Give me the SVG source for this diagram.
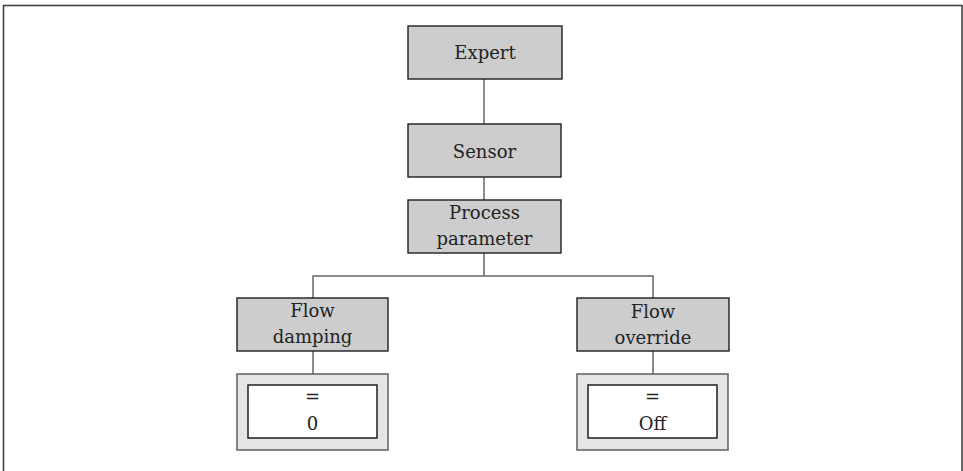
<svg xmlns="http://www.w3.org/2000/svg" width="963" height="471" viewBox="0 0 963 471">
<style>
.frame{fill:none;stroke:#444;stroke-width:1.6}
.node{fill:#cdcdcd;stroke:#1e1e1e;stroke-width:1.4}
.outer{fill:#e5e5e6;stroke:#555;stroke-width:1.4}
.inner{fill:#fff;stroke:#111;stroke-width:1.4}
.conn{fill:none;stroke:#666;stroke-width:1.5}
text{font-family:"DejaVu Serif","Liberation Serif",serif;font-size:18px;fill:#222;text-anchor:middle;dominant-baseline:central}
</style>
<rect class="frame" x="3.5" y="5.5" width="958.5" height="480"/>
<g id="connectors">
<path class="conn" d="M484 79V124"/>
<path class="conn" d="M484 177V200"/>
<path class="conn" d="M484 253V276M313 298V276H653V298"/>
<path class="conn" d="M313 351V374"/>
<path class="conn" d="M653 351V374"/>
</g>
<g id="expert">
<rect class="node" x="408" y="26" width="154" height="53"/>
<text x="485" y="52">Expert</text>
</g>
<g id="sensor">
<rect class="node" x="408" y="124" width="153" height="53"/>
<text x="484.5" y="151">Sensor</text>
</g>
<g id="process-parameter">
<rect class="node" x="408" y="200" width="153" height="53"/>
<text x="484.5" y="212">Process</text>
<text x="484.5" y="238">parameter</text>
</g>
<g id="flow-damping">
<rect class="node" x="237" y="298" width="151" height="53"/>
<text x="312.5" y="310">Flow</text>
<text x="312.5" y="336">damping</text>
</g>
<g id="flow-override">
<rect class="node" x="577" y="298" width="152" height="53"/>
<text x="653" y="311">Flow</text>
<text x="653" y="337">override</text>
</g>
<g id="value-damping">
<rect class="outer" x="237" y="374" width="151" height="76"/>
<rect class="inner" x="248" y="385" width="129" height="53"/>
<text x="312.5" y="396">=</text>
<text x="312.5" y="423">0</text>
</g>
<g id="value-override">
<rect class="outer" x="577" y="374" width="151" height="76"/>
<rect class="inner" x="588" y="385" width="129" height="53"/>
<text x="652.5" y="396">=</text>
<text x="652.5" y="423">Off</text>
</g>
</svg>
